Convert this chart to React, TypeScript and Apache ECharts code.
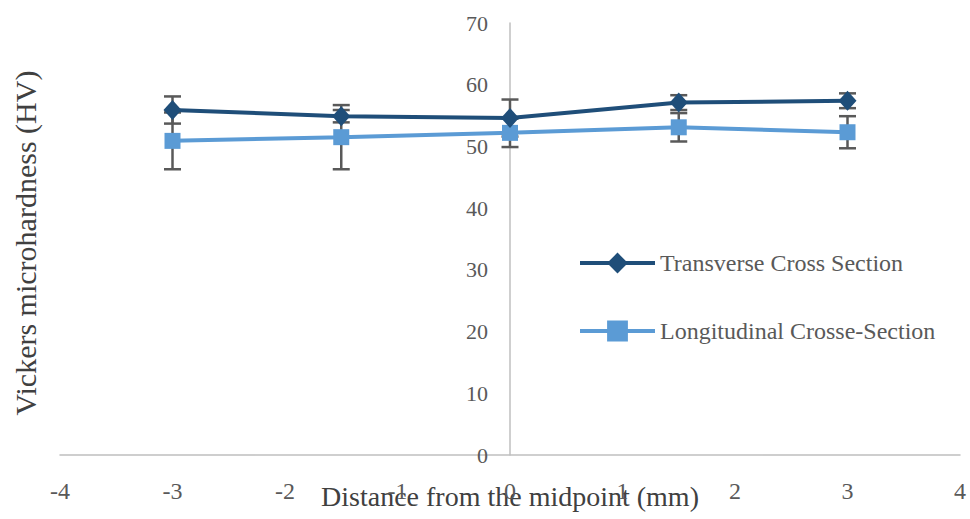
import React, { useEffect, useRef } from "react";
import * as echarts from "echarts";

const distances = [-3, -1.5, 0, 1.5, 3];
const transverse = [55.9, 54.9, 54.6, 57.1, 57.4];
const transverseErr = [2.2, 1.0, 3.0, 1.2, 1.2];
const longitudinal = [50.9, 51.5, 52.2, 53.1, 52.3];
const longitudinalErr = [4.6, 5.2, 2.3, 2.3, 2.6];
const seriesNames = ["Transverse Cross Section", "Longitudinal Crosse-Section"];
const xTitle = "Distance from the midpoint (mm)";
const yTitle = "Vickers microhardness (HV)";

const FONT = "Liberation Serif";
const DARK = "#1F4E79";
const LIGHT = "#5B9BD5";
const ERR = "#595959";

function errorSeries(vals: number[], errs: number[]) {
  return {
    type: "custom",
    z: 1,
    silent: true,
    renderItem: (params: any, api: any) => {
      const x = api.value(0);
      const y = api.value(1);
      const e = api.value(2);
      const top = api.coord([x, y + e]);
      const bot = api.coord([x, y - e]);
      const hw = 8.5;
      const st = { stroke: ERR, lineWidth: 2.5 };
      return {
        type: "group",
        children: [
          { type: "line", shape: { x1: top[0], y1: top[1], x2: bot[0], y2: bot[1] }, style: st },
          { type: "line", shape: { x1: top[0] - hw, y1: top[1], x2: top[0] + hw, y2: top[1] }, style: st },
          { type: "line", shape: { x1: bot[0] - hw, y1: bot[1], x2: bot[0] + hw, y2: bot[1] }, style: st },
        ],
      };
    },
    encode: { x: 0, y: 1 },
    data: distances.map((d, i) => [d, vals[i], errs[i]]),
  };
}

export default function App() {
  const ref = useRef<HTMLDivElement>(null);
  useEffect(() => {
    document.body.style.margin = "0";
    const chart = echarts.init(ref.current!, null, { renderer: "svg" });
    chart.setOption({
      animation: false,
      backgroundColor: "#ffffff",
      grid: { left: 60, right: 10, top: 23, bottom: 64, containLabel: false, outerBoundsMode: "none" },
      xAxis: {
        type: "value",
        min: -4,
        max: 4,
        interval: 1,
        name: xTitle,
        nameLocation: "middle",
        nameGap: 27,
        nameMoveOverlap: false,
        nameTextStyle: { fontFamily: FONT, fontSize: 28, color: "#404040" },
        axisLine: { show: true, onZero: false, lineStyle: { color: "#BFBFBF", width: 1.5 } },
        axisTick: { show: false },
        splitLine: { show: false },
        axisLabel: { margin: 24, fontFamily: FONT, fontSize: 24, color: "#595959" },
      },
      yAxis: {
        type: "value",
        min: 0,
        max: 70,
        interval: 10,
        offset: -450,
        axisLine: { show: true, onZero: false, lineStyle: { color: "#BFBFBF", width: 1.5 } },
        axisTick: { show: false },
        splitLine: { show: false },
        axisLabel: { margin: 22, fontFamily: FONT, fontSize: 22, color: "#595959" },
      },
      legend: {
        data: seriesNames,
        orient: "vertical",
        left: 573,
        top: 246,
        itemWidth: 75,
        itemHeight: 26,
        itemGap: 44,
        lineStyle: { width: 4 },
        textStyle: { fontFamily: FONT, fontSize: 24, color: "#595959" },
      },
      graphic: [
        {
          type: "text",
          x: 25,
          y: 243,
          rotation: Math.PI / 2,
          style: {
            text: yTitle,
            fontFamily: FONT,
            fontSize: 30,
            fill: "#404040",
            align: "center",
            verticalAlign: "middle",
          },
        },
      ],
      series: [
        errorSeries(transverse, transverseErr),
        errorSeries(longitudinal, longitudinalErr),
        {
          name: seriesNames[1],
          type: "line",
          z: 3,
          data: distances.map((d, i) => [d, longitudinal[i]]),
          symbol: "rect",
          symbolSize: 16,
          lineStyle: { color: LIGHT, width: 4 },
          itemStyle: { color: LIGHT },
        },
        {
          name: seriesNames[0],
          type: "line",
          z: 4,
          data: distances.map((d, i) => [d, transverse[i]]),
          symbol: "diamond",
          symbolSize: [18, 20],
          lineStyle: { color: DARK, width: 4 },
          itemStyle: { color: DARK },
        },
      ],
    });
    return () => chart.dispose();
  }, []);
  return <div ref={ref} style={{ width: 970, height: 519 }} />;
}
